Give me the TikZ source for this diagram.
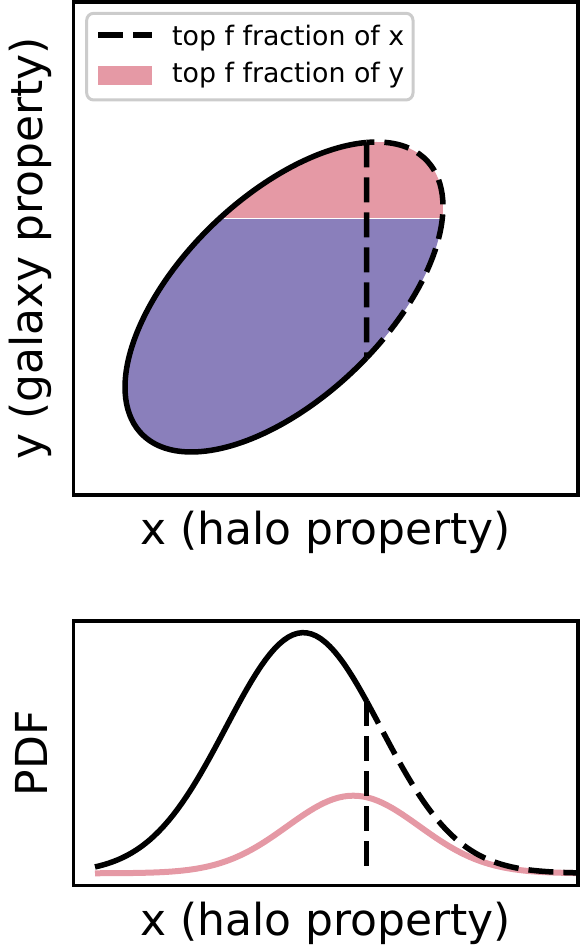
\documentclass[tikz,border=0pt]{standalone}
\usepackage{fontspec}
\setmainfont{DejaVu Sans}
\usetikzlibrary{calc}
\definecolor{fracpink}{RGB}{229,153,165}
\definecolor{fracpurple}{RGB}{138,127,187}
\definecolor{legendgray}{RGB}{204,204,204}
\tikzset{
  axframe/.style  = {draw=black, line width=3.2pt},
  blackline/.style = {draw=black, line width=5.5pt},
  dashline/.style = {blackline, dash pattern=on 25pt off 10pt},
  pinkline/.style = {draw=fracpink, line width=6pt},
  axlabel/.style  = {font=\fontsize{44}{44}\selectfont, anchor=base, inner sep=0pt},
  legtext/.style  = {font=\fontsize{26.8}{30}\selectfont, anchor=base west, inner sep=0pt},
}

\begin{document}
\begin{tikzpicture}[x=1pt, y=1pt]
  \useasboundingbox (0,0) rectangle (584,946);
  % upper panel: joint distribution of x and y
  \coordinate (c) at (284,649);
  \begin{scope}
    \clip[rotate around={43.75:(c)}] (c) ellipse [x radius=197.5, y radius=101.4];
    \fill[fracpurple] (100,420) rectangle (480,727);
    \fill[fracpink] (100,727) rectangle (480,820);
    \draw[white, line width=1pt] (100,727) -- (480,727);
  \end{scope}
  \begin{scope}[shift={(c)}, rotate=43.75]
    \coordinate (xtop) at (32.5:197.5 and 101.4);
    \coordinate (xbot) at (-84.8:197.5 and 101.4);
    \draw[blackline] (xtop) arc[start angle=32.5, end angle=275.2, x radius=197.5, y radius=101.4];
    \draw[dashline] (xbot) arc[start angle=-84.8, end angle=32.5, x radius=197.5, y radius=101.4];
  \end{scope}
  \draw[dashline] (xtop) -- (xbot);
  \draw[axframe] (73.5,451) rectangle (578,944);
  % legend
  \draw[legendgray, line width=3pt, fill=white, rounded corners=7pt] (86.7,846) rectangle (413,932.7);
  \draw[dashline] (98,911) -- (152,911);
  \fill[fracpink] (98,861) rectangle (152,880);
  \node[legtext] (legx) at (172,900.3) {top f fraction of x};
  \node[legtext] (legy) at (172,863) {top f fraction of y};
  \node[axlabel] (xlabtop) at (325.75,401) {x (halo property)};
  \node[axlabel, rotate=90] (ylab) at (42,697.5) {y (galaxy property)};
  % lower panel: PDF of x
  \draw[pinkline] plot[domain=95:577, samples=100] (\x, {72.7+77.6*exp(-0.5*((\x-353.3)/66)^2)});
  \draw[blackline] plot[domain=95:366.7, samples=60] (\x, {72.7+240.6*exp(-0.5*((\x-303.3)/77.3)^2)});
  \draw[dashline] plot[domain=366.7:577, samples=60] (\x, {72.7+240.6*exp(-0.5*((\x-303.3)/77.3)^2)});
  \coordinate (cut) at (366.7, {72.7+240.6*exp(-0.5*((366.7-303.3)/77.3)^2)});
  \coordinate (cutbase) at (366.7,76);
  \draw[dashline] (cut) -- (cutbase);
  \draw[axframe] (73.5,60.5) rectangle (578,325);
  \node[axlabel] (xlabbot) at (325.75,10) {x (halo property)};
  \node[axlabel, rotate=90] (pdflab) at (47,192.5) {PDF};
\end{tikzpicture}
\end{document}
